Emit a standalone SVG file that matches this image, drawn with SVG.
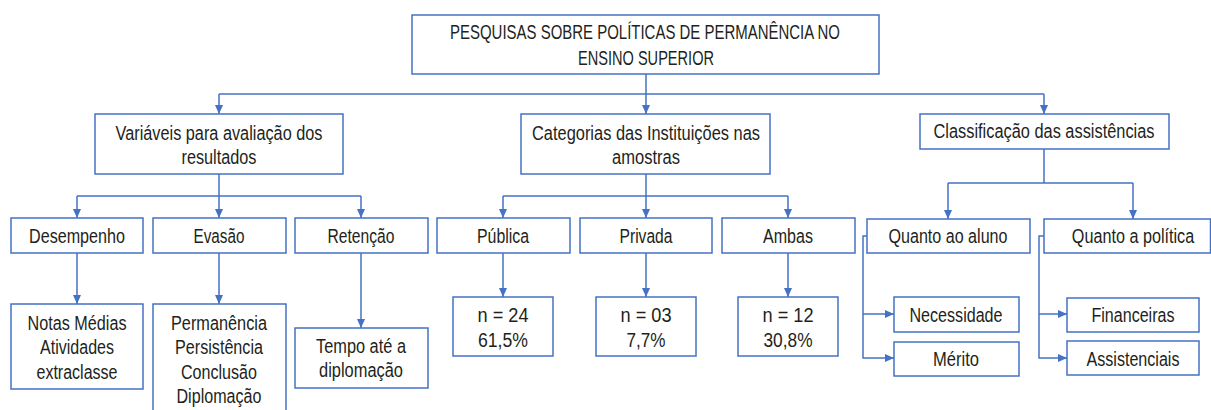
<svg xmlns="http://www.w3.org/2000/svg" width="1211" height="410" viewBox="0 0 1211 410">
<style>
.box{fill:#fff;stroke:#4472C4;stroke-width:1.5}
.ln{fill:none;stroke:#4472C4;stroke-width:1.5}
text{font-family:"Liberation Sans",Arial,sans-serif;font-size:20px;fill:#231f20;text-anchor:middle}
</style>
<defs>
<marker id="ah" markerUnits="userSpaceOnUse" markerWidth="9" markerHeight="8" viewBox="0 0 9 8" refX="9" refY="4" orient="auto">
<path d="M0,0 L9,4 L0,8 Z" fill="#4472C4"/>
</marker>
</defs>
<rect width="1211" height="410" fill="#fff"/>
<g id="connectors">
<path class="ln" d="M646,74 V114" marker-end="url(#ah)"/>
<path class="ln" d="M219,94 H1044"/>
<path class="ln" d="M219,94 V114" marker-end="url(#ah)"/>
<path class="ln" d="M1044,94 V114" marker-end="url(#ah)"/>
<path class="ln" d="M219,174 V218" marker-end="url(#ah)"/>
<path class="ln" d="M77,196 H361"/>
<path class="ln" d="M77,196 V218" marker-end="url(#ah)"/>
<path class="ln" d="M361,196 V218" marker-end="url(#ah)"/>
<path class="ln" d="M646,174 V218" marker-end="url(#ah)"/>
<path class="ln" d="M503,196 H788"/>
<path class="ln" d="M503,196 V218" marker-end="url(#ah)"/>
<path class="ln" d="M788,196 V218" marker-end="url(#ah)"/>
<path class="ln" d="M1044,149 V183"/>
<path class="ln" d="M948,183 H1133"/>
<path class="ln" d="M948,183 V219" marker-end="url(#ah)"/>
<path class="ln" d="M1133,183 V219" marker-end="url(#ah)"/>
<path class="ln" d="M77,253 V304" marker-end="url(#ah)"/>
<path class="ln" d="M219,253 V304" marker-end="url(#ah)"/>
<path class="ln" d="M361,253 V328" marker-end="url(#ah)"/>
<path class="ln" d="M503,253 V297" marker-end="url(#ah)"/>
<path class="ln" d="M646,253 V297" marker-end="url(#ah)"/>
<path class="ln" d="M788,253 V297" marker-end="url(#ah)"/>
<path class="ln" d="M867,236 H863 V358 H894" marker-end="url(#ah)"/>
<path class="ln" d="M863,314 H894" marker-end="url(#ah)"/>
<path class="ln" d="M1044,236 H1039 V358 H1067" marker-end="url(#ah)"/>
<path class="ln" d="M1039,314 H1067" marker-end="url(#ah)"/>
</g>
<g id="n-root"><rect class="box" x="412" y="15" width="467" height="59"/>
<text x="645" y="39" textLength="390" lengthAdjust="spacingAndGlyphs">PESQUISAS SOBRE POLÍTICAS DE PERMANÊNCIA NO</text>
<text x="646" y="65" textLength="136" lengthAdjust="spacingAndGlyphs">ENSINO SUPERIOR</text></g>
<g id="n-variaveis"><rect class="box" x="95" y="114" width="248" height="60"/>
<text x="219" y="140" textLength="207" lengthAdjust="spacingAndGlyphs">Variáveis para avaliação dos</text>
<text x="219" y="164" textLength="75" lengthAdjust="spacingAndGlyphs">resultados</text></g>
<g id="n-categorias"><rect class="box" x="521" y="114" width="249" height="60"/>
<text x="646" y="140" textLength="228" lengthAdjust="spacingAndGlyphs">Categorias das Instituições nas</text>
<text x="646" y="164" textLength="68" lengthAdjust="spacingAndGlyphs">amostras</text></g>
<g id="n-classificacao"><rect class="box" x="920" y="114" width="249" height="35"/>
<text x="1044" y="138" textLength="221" lengthAdjust="spacingAndGlyphs">Classificação das assistências</text></g>
<g id="n-desempenho"><rect class="box" x="11" y="218" width="132" height="35"/>
<text x="77" y="243" textLength="96" lengthAdjust="spacingAndGlyphs">Desempenho</text></g>
<g id="n-evasao"><rect class="box" x="153" y="218" width="133" height="35"/>
<text x="219" y="243" textLength="51" lengthAdjust="spacingAndGlyphs">Evasão</text></g>
<g id="n-retencao"><rect class="box" x="295" y="218" width="133" height="35"/>
<text x="361" y="243" textLength="67" lengthAdjust="spacingAndGlyphs">Retenção</text></g>
<g id="n-publica"><rect class="box" x="437" y="218" width="133" height="35"/>
<text x="503" y="243" textLength="52" lengthAdjust="spacingAndGlyphs">Pública</text></g>
<g id="n-privada"><rect class="box" x="580" y="218" width="132" height="35"/>
<text x="646" y="243" textLength="53" lengthAdjust="spacingAndGlyphs">Privada</text></g>
<g id="n-ambas"><rect class="box" x="722" y="218" width="133" height="35"/>
<text x="788" y="243" textLength="50" lengthAdjust="spacingAndGlyphs">Ambas</text></g>
<g id="n-aluno"><rect class="box" x="867" y="219" width="163" height="34"/>
<text x="948" y="243" textLength="119" lengthAdjust="spacingAndGlyphs">Quanto ao aluno</text></g>
<g id="n-politica"><rect class="box" x="1044" y="219" width="166.5" height="34"/>
<text transform="translate(1133,243) scale(0.81,1)" x="0" y="0">Quanto a política</text></g>
<g id="n-notas"><rect class="box" x="11" y="304" width="132" height="85"/>
<text x="77" y="330" textLength="99" lengthAdjust="spacingAndGlyphs">Notas Médias</text>
<text x="77" y="354" textLength="74" lengthAdjust="spacingAndGlyphs">Atividades</text>
<text x="77" y="379" textLength="81" lengthAdjust="spacingAndGlyphs">extraclasse</text></g>
<g id="n-permanencia"><rect class="box" x="153" y="304" width="133" height="120"/>
<text x="219" y="330" textLength="96" lengthAdjust="spacingAndGlyphs">Permanência</text>
<text x="219" y="354" textLength="88" lengthAdjust="spacingAndGlyphs">Persistência</text>
<text x="219" y="379" textLength="76" lengthAdjust="spacingAndGlyphs">Conclusão</text>
<text x="219" y="403" textLength="85" lengthAdjust="spacingAndGlyphs">Diplomação</text></g>
<g id="n-tempo"><rect class="box" x="295" y="328" width="133" height="60"/>
<text x="361" y="353" textLength="90" lengthAdjust="spacingAndGlyphs">Tempo até a</text>
<text x="361" y="377" textLength="84" lengthAdjust="spacingAndGlyphs">diplomação</text></g>
<g id="n-n24"><rect class="box" x="453" y="297" width="100" height="59"/>
<text x="503" y="322" textLength="51" lengthAdjust="spacingAndGlyphs">n = 24</text>
<text x="503" y="347" textLength="50" lengthAdjust="spacingAndGlyphs">61,5%</text></g>
<g id="n-n03"><rect class="box" x="596" y="297" width="100" height="59"/>
<text x="646" y="322" textLength="51" lengthAdjust="spacingAndGlyphs">n = 03</text>
<text x="646" y="347" textLength="39" lengthAdjust="spacingAndGlyphs">7,7%</text></g>
<g id="n-n12"><rect class="box" x="738" y="297" width="100" height="59"/>
<text x="788" y="322" textLength="51" lengthAdjust="spacingAndGlyphs">n = 12</text>
<text x="788" y="347" textLength="49" lengthAdjust="spacingAndGlyphs">30,8%</text></g>
<g id="n-necessidade"><rect class="box" x="894" y="297" width="125" height="35"/>
<text x="956" y="322" textLength="93" lengthAdjust="spacingAndGlyphs">Necessidade</text></g>
<g id="n-merito"><rect class="box" x="894" y="342" width="125" height="34"/>
<text x="956" y="366" textLength="46" lengthAdjust="spacingAndGlyphs">Mérito</text></g>
<g id="n-financeiras"><rect class="box" x="1067" y="298" width="132" height="34"/>
<text x="1133" y="322" textLength="83" lengthAdjust="spacingAndGlyphs">Financeiras</text></g>
<g id="n-assistenciais"><rect class="box" x="1067" y="341" width="132" height="34"/>
<text x="1133" y="366" textLength="93" lengthAdjust="spacingAndGlyphs">Assistenciais</text></g>
</svg>
